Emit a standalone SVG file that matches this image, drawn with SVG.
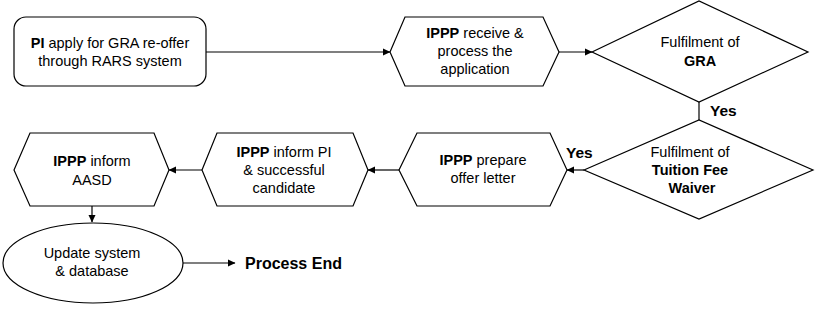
<svg xmlns="http://www.w3.org/2000/svg" width="816" height="312" viewBox="0 0 816 312">
<style>
.s{fill:#fff;stroke:#000;stroke-width:1.2}
.t{font-family:"Liberation Sans",Arial,sans-serif;font-size:14.5px;fill:#000;text-anchor:middle}
.b{font-weight:bold}
.y{font-family:"Liberation Sans",Arial,sans-serif;font-size:15.5px;font-weight:bold;fill:#000}
.c{stroke:#000;stroke-width:1.2;fill:none;marker-end:url(#a)}
</style>
<defs>
<marker id="a" markerWidth="8" markerHeight="8" refX="7" refY="4" orient="auto" markerUnits="userSpaceOnUse">
<path d="M0,0.5 L7.5,4 L0,7.5 Z" fill="#000"/>
</marker>
</defs>
<g id="connectors">
<line class="c" x1="206" y1="52" x2="390" y2="52"/>
<line class="c" x1="559" y1="52" x2="592" y2="52"/>
<line x1="699" y1="102" x2="699" y2="120" stroke="#000" stroke-width="1.2"/>
<text class="y" x="710" y="116">Yes</text>
<line class="c" x1="584" y1="170" x2="567" y2="170"/>
<text class="y" x="566" y="158">Yes</text>
<line class="c" x1="399" y1="170" x2="368" y2="170"/>
<line class="c" x1="202" y1="170" x2="169" y2="170"/>
<line class="c" x1="92" y1="206" x2="92" y2="222"/>
<line class="c" x1="183" y1="263" x2="235" y2="263"/>
</g>
<g id="n1">
<rect class="s" x="14" y="17" width="192" height="69" rx="12"/>
<text class="t" x="110" y="48"><tspan class="b">PI</tspan> apply for GRA re-offer</text>
<text class="t" x="110" y="66">through RARS system</text>
</g>
<g id="n2">
<polygon class="s" points="390,52 405,17 543,17 559,52 543,86 405,86"/>
<text class="t" x="475" y="38"><tspan class="b">IPPP</tspan> receive &amp;</text>
<text class="t" x="475" y="56">process the</text>
<text class="t" x="475" y="74">application</text>
</g>
<g id="n3">
<polygon class="s" points="592,52 699,1 808,52 699,102"/>
<text class="t" x="700" y="47">Fulfilment of</text>
<text class="t b" x="700" y="66">GRA</text>
</g>
<g id="n4">
<polygon class="s" points="584,170 699,120 813,170 699,219"/>
<text class="t" x="690" y="157">Fulfilment of</text>
<text class="t b" x="690" y="175">Tuition Fee</text>
<text class="t b" x="692" y="193">Waiver</text>
</g>
<g id="n5">
<polygon class="s" points="399,170 417,133 550,133 567,170 550,206 417,206"/>
<text class="t" x="483" y="165"><tspan class="b">IPPP</tspan> prepare</text>
<text class="t" x="483" y="183">offer letter</text>
</g>
<g id="n6">
<polygon class="s" points="202,170 217,133 353,133 368,170 353,206 217,206"/>
<text class="t" x="284" y="157"><tspan class="b">IPPP</tspan> inform PI</text>
<text class="t" x="284" y="175">&amp; successful</text>
<text class="t" x="284" y="193">candidate</text>
</g>
<g id="n7">
<polygon class="s" points="14,170 30,133 154,133 169,170 154,206 30,206"/>
<text class="t" x="92" y="166"><tspan class="b">IPPP</tspan> inform</text>
<text class="t" x="92" y="185">AASD</text>
</g>
<g id="n8">
<ellipse class="s" cx="93" cy="263" rx="90" ry="40"/>
<text class="t" x="92" y="258">Update system</text>
<text class="t" x="92" y="276">&amp; database</text>
</g>
<g id="n9">
<text class="t b" x="245" y="269" style="text-anchor:start;font-size:16px">Process End</text>
</g>
</svg>
